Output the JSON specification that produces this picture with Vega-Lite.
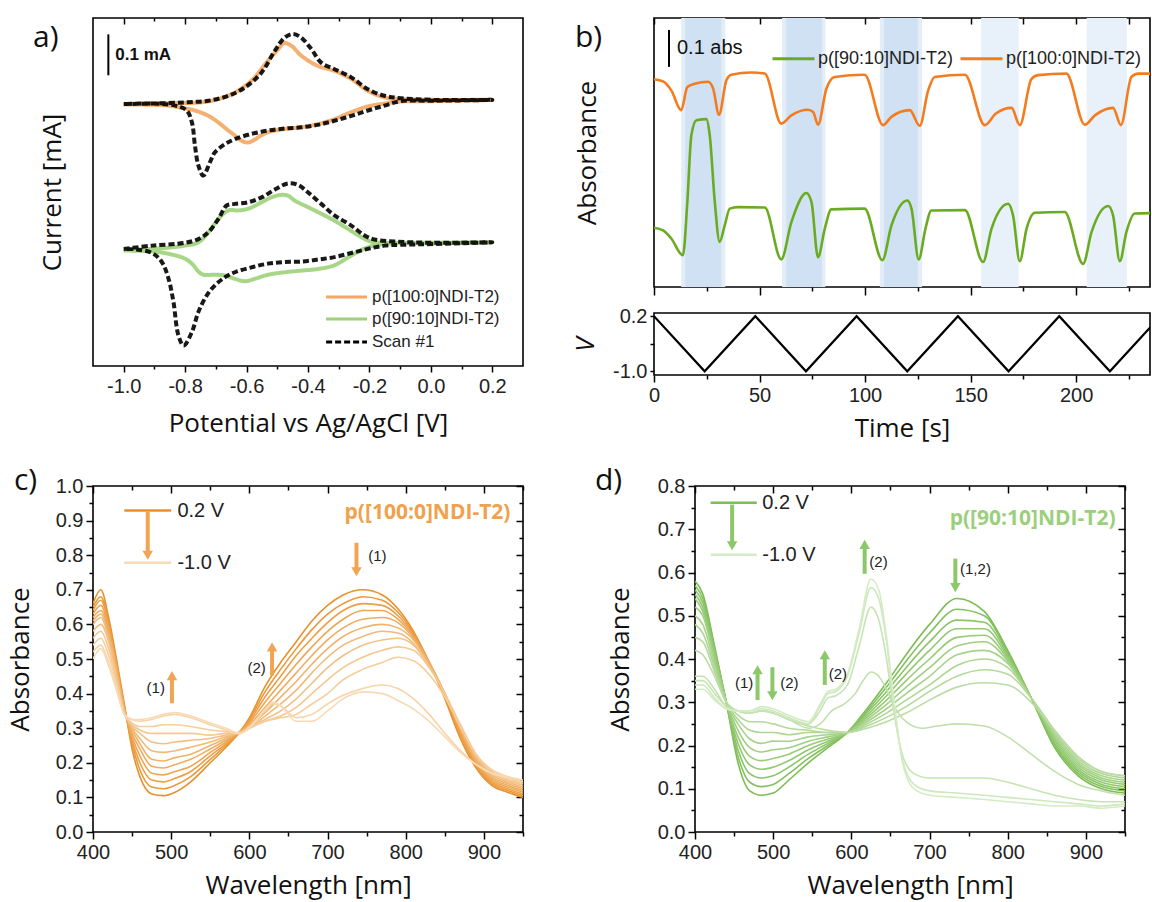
{
"$schema": "https://vega.github.io/schema/vega-lite/v6.json",
"autosize": {"type": "pad"},
"padding": {"left": 6, "top": 16, "right": 0, "bottom": 6},
"background": "white",
"datasets": {
"cv": [
{"s":"p([100:0]NDI-T2)","g":"A","o":1,"v":-1.0,"i":0.640},{"s":"p([100:0]NDI-T2)","g":"A","o":2,"v":-0.854,"i":0.642},{"s":"p([100:0]NDI-T2)","g":"A","o":3,"v":-0.746,"i":0.644},{"s":"p([100:0]NDI-T2)","g":"A","o":4,"v":-0.692,"i":0.652},{"s":"p([100:0]NDI-T2)","g":"A","o":5,"v":-0.638,"i":0.668},{"s":"p([100:0]NDI-T2)","g":"A","o":6,"v":-0.584,"i":0.697},{"s":"p([100:0]NDI-T2)","g":"A","o":7,"v":-0.530,"i":0.746},{"s":"p([100:0]NDI-T2)","g":"A","o":8,"v":-0.497,"i":0.774},{"s":"p([100:0]NDI-T2)","g":"A","o":9,"v":-0.478,"i":0.789},{"s":"p([100:0]NDI-T2)","g":"A","o":10,"v":-0.454,"i":0.782},{"s":"p([100:0]NDI-T2)","g":"A","o":11,"v":-0.422,"i":0.758},{"s":"p([100:0]NDI-T2)","g":"A","o":12,"v":-0.368,"i":0.733},{"s":"p([100:0]NDI-T2)","g":"A","o":13,"v":-0.314,"i":0.721},{"s":"p([100:0]NDI-T2)","g":"A","o":14,"v":-0.259,"i":0.701},{"s":"p([100:0]NDI-T2)","g":"A","o":15,"v":-0.205,"i":0.672},{"s":"p([100:0]NDI-T2)","g":"A","o":16,"v":-0.151,"i":0.656},{"s":"p([100:0]NDI-T2)","g":"A","o":17,"v":-0.097,"i":0.652},{"s":"p([100:0]NDI-T2)","g":"A","o":18,"v":0.011,"i":0.650},{"s":"p([100:0]NDI-T2)","g":"A","o":19,"v":0.2,"i":0.650},{"s":"p([100:0]NDI-T2)","g":"A","o":20,"v":0.011,"i":0.647},{"s":"p([100:0]NDI-T2)","g":"A","o":21,"v":-0.097,"i":0.646},{"s":"p([100:0]NDI-T2)","g":"A","o":22,"v":-0.151,"i":0.641},{"s":"p([100:0]NDI-T2)","g":"A","o":23,"v":-0.205,"i":0.634},{"s":"p([100:0]NDI-T2)","g":"A","o":24,"v":-0.259,"i":0.620},{"s":"p([100:0]NDI-T2)","g":"A","o":25,"v":-0.314,"i":0.603},{"s":"p([100:0]NDI-T2)","g":"A","o":26,"v":-0.368,"i":0.591},{"s":"p([100:0]NDI-T2)","g":"A","o":27,"v":-0.422,"i":0.583},{"s":"p([100:0]NDI-T2)","g":"A","o":28,"v":-0.476,"i":0.579},{"s":"p([100:0]NDI-T2)","g":"A","o":29,"v":-0.530,"i":0.571},{"s":"p([100:0]NDI-T2)","g":"A","o":30,"v":-0.551,"i":0.564},{"s":"p([100:0]NDI-T2)","g":"A","o":31,"v":-0.573,"i":0.553},{"s":"p([100:0]NDI-T2)","g":"A","o":32,"v":-0.595,"i":0.546},{"s":"p([100:0]NDI-T2)","g":"A","o":33,"v":-0.616,"i":0.550},{"s":"p([100:0]NDI-T2)","g":"A","o":34,"v":-0.638,"i":0.563},{"s":"p([100:0]NDI-T2)","g":"A","o":35,"v":-0.659,"i":0.575},{"s":"p([100:0]NDI-T2)","g":"A","o":36,"v":-0.692,"i":0.595},{"s":"p([100:0]NDI-T2)","g":"A","o":37,"v":-0.724,"i":0.611},{"s":"p([100:0]NDI-T2)","g":"A","o":38,"v":-0.768,"i":0.624},{"s":"p([100:0]NDI-T2)","g":"A","o":39,"v":-0.800,"i":0.629},{"s":"p([100:0]NDI-T2)","g":"A","o":40,"v":-0.854,"i":0.636},{"s":"p([100:0]NDI-T2)","g":"A","o":41,"v":-0.908,"i":0.638},{"s":"p([100:0]NDI-T2)","g":"A","o":42,"v":-1.0,"i":0.639},
{"s":"p([90:10]NDI-T2)","g":"B","o":1,"v":-1.0,"i":0.283},{"s":"p([90:10]NDI-T2)","g":"B","o":2,"v":-0.908,"i":0.286},{"s":"p([90:10]NDI-T2)","g":"B","o":3,"v":-0.800,"i":0.294},{"s":"p([90:10]NDI-T2)","g":"B","o":4,"v":-0.757,"i":0.302},{"s":"p([90:10]NDI-T2)","g":"B","o":5,"v":-0.724,"i":0.327},{"s":"p([90:10]NDI-T2)","g":"B","o":6,"v":-0.692,"i":0.359},{"s":"p([90:10]NDI-T2)","g":"B","o":7,"v":-0.659,"i":0.380},{"s":"p([90:10]NDI-T2)","g":"B","o":8,"v":-0.627,"i":0.380},{"s":"p([90:10]NDI-T2)","g":"B","o":9,"v":-0.595,"i":0.384},{"s":"p([90:10]NDI-T2)","g":"B","o":10,"v":-0.551,"i":0.400},{"s":"p([90:10]NDI-T2)","g":"B","o":11,"v":-0.519,"i":0.412},{"s":"p([90:10]NDI-T2)","g":"B","o":12,"v":-0.487,"i":0.418},{"s":"p([90:10]NDI-T2)","g":"B","o":13,"v":-0.465,"i":0.416},{"s":"p([90:10]NDI-T2)","g":"B","o":14,"v":-0.443,"i":0.404},{"s":"p([90:10]NDI-T2)","g":"B","o":15,"v":-0.400,"i":0.388},{"s":"p([90:10]NDI-T2)","g":"B","o":16,"v":-0.357,"i":0.372},{"s":"p([90:10]NDI-T2)","g":"B","o":17,"v":-0.314,"i":0.355},{"s":"p([90:10]NDI-T2)","g":"B","o":18,"v":-0.270,"i":0.335},{"s":"p([90:10]NDI-T2)","g":"B","o":19,"v":-0.227,"i":0.315},{"s":"p([90:10]NDI-T2)","g":"B","o":20,"v":-0.195,"i":0.304},{"s":"p([90:10]NDI-T2)","g":"B","o":21,"v":-0.151,"i":0.301},{"s":"p([90:10]NDI-T2)","g":"B","o":22,"v":0.011,"i":0.301},{"s":"p([90:10]NDI-T2)","g":"B","o":23,"v":0.2,"i":0.302},{"s":"p([90:10]NDI-T2)","g":"B","o":24,"v":0.011,"i":0.300},{"s":"p([90:10]NDI-T2)","g":"B","o":25,"v":-0.151,"i":0.298},{"s":"p([90:10]NDI-T2)","g":"B","o":26,"v":-0.205,"i":0.290},{"s":"p([90:10]NDI-T2)","g":"B","o":27,"v":-0.259,"i":0.270},{"s":"p([90:10]NDI-T2)","g":"B","o":28,"v":-0.314,"i":0.246},{"s":"p([90:10]NDI-T2)","g":"B","o":29,"v":-0.368,"i":0.237},{"s":"p([90:10]NDI-T2)","g":"B","o":30,"v":-0.422,"i":0.233},{"s":"p([90:10]NDI-T2)","g":"B","o":31,"v":-0.476,"i":0.229},{"s":"p([90:10]NDI-T2)","g":"B","o":32,"v":-0.530,"i":0.223},{"s":"p([90:10]NDI-T2)","g":"B","o":33,"v":-0.573,"i":0.213},{"s":"p([90:10]NDI-T2)","g":"B","o":34,"v":-0.606,"i":0.207},{"s":"p([90:10]NDI-T2)","g":"B","o":35,"v":-0.638,"i":0.213},{"s":"p([90:10]NDI-T2)","g":"B","o":36,"v":-0.670,"i":0.221},{"s":"p([90:10]NDI-T2)","g":"B","o":37,"v":-0.703,"i":0.223},{"s":"p([90:10]NDI-T2)","g":"B","o":38,"v":-0.741,"i":0.223},{"s":"p([90:10]NDI-T2)","g":"B","o":39,"v":-0.757,"i":0.231},{"s":"p([90:10]NDI-T2)","g":"B","o":40,"v":-0.773,"i":0.246},{"s":"p([90:10]NDI-T2)","g":"B","o":41,"v":-0.800,"i":0.262},{"s":"p([90:10]NDI-T2)","g":"B","o":42,"v":-0.854,"i":0.274},{"s":"p([90:10]NDI-T2)","g":"B","o":43,"v":-0.908,"i":0.280},{"s":"p([90:10]NDI-T2)","g":"B","o":44,"v":-1.0,"i":0.282},
{"s":"Scan #1","g":"C","o":1,"v":-1.0,"i":0.640},{"s":"Scan #1","g":"C","o":2,"v":-0.908,"i":0.641},{"s":"Scan #1","g":"C","o":3,"v":-0.800,"i":0.644},{"s":"Scan #1","g":"C","o":4,"v":-0.724,"i":0.648},{"s":"Scan #1","g":"C","o":5,"v":-0.659,"i":0.660},{"s":"Scan #1","g":"C","o":6,"v":-0.606,"i":0.680},{"s":"Scan #1","g":"C","o":7,"v":-0.551,"i":0.717},{"s":"Scan #1","g":"C","o":8,"v":-0.508,"i":0.770},{"s":"Scan #1","g":"C","o":9,"v":-0.476,"i":0.802},{"s":"Scan #1","g":"C","o":10,"v":-0.449,"i":0.811},{"s":"Scan #1","g":"C","o":11,"v":-0.422,"i":0.802},{"s":"Scan #1","g":"C","o":12,"v":-0.389,"i":0.774},{"s":"Scan #1","g":"C","o":13,"v":-0.357,"i":0.741},{"s":"Scan #1","g":"C","o":14,"v":-0.314,"i":0.725},{"s":"Scan #1","g":"C","o":15,"v":-0.259,"i":0.705},{"s":"Scan #1","g":"C","o":16,"v":-0.205,"i":0.676},{"s":"Scan #1","g":"C","o":17,"v":-0.151,"i":0.660},{"s":"Scan #1","g":"C","o":18,"v":-0.097,"i":0.654},{"s":"Scan #1","g":"C","o":19,"v":0.011,"i":0.650},{"s":"Scan #1","g":"C","o":20,"v":0.2,"i":0.650},{"s":"Scan #1","g":"C","o":21,"v":0.011,"i":0.648},{"s":"Scan #1","g":"C","o":22,"v":-0.097,"i":0.647},{"s":"Scan #1","g":"C","o":23,"v":-0.151,"i":0.636},{"s":"Scan #1","g":"C","o":24,"v":-0.205,"i":0.624},{"s":"Scan #1","g":"C","o":25,"v":-0.259,"i":0.611},{"s":"Scan #1","g":"C","o":26,"v":-0.314,"i":0.599},{"s":"Scan #1","g":"C","o":27,"v":-0.368,"i":0.589},{"s":"Scan #1","g":"C","o":28,"v":-0.422,"i":0.583},{"s":"Scan #1","g":"C","o":29,"v":-0.476,"i":0.580},{"s":"Scan #1","g":"C","o":30,"v":-0.530,"i":0.575},{"s":"Scan #1","g":"C","o":31,"v":-0.584,"i":0.567},{"s":"Scan #1","g":"C","o":32,"v":-0.638,"i":0.554},{"s":"Scan #1","g":"C","o":33,"v":-0.670,"i":0.542},{"s":"Scan #1","g":"C","o":34,"v":-0.703,"i":0.522},{"s":"Scan #1","g":"C","o":35,"v":-0.719,"i":0.498},{"s":"Scan #1","g":"C","o":36,"v":-0.741,"i":0.465},{"s":"Scan #1","g":"C","o":37,"v":-0.757,"i":0.490},{"s":"Scan #1","g":"C","o":38,"v":-0.768,"i":0.538},{"s":"Scan #1","g":"C","o":39,"v":-0.778,"i":0.595},{"s":"Scan #1","g":"C","o":40,"v":-0.795,"i":0.624},{"s":"Scan #1","g":"C","o":41,"v":-0.832,"i":0.636},{"s":"Scan #1","g":"C","o":42,"v":-0.908,"i":0.641},{"s":"Scan #1","g":"C","o":43,"v":-1.0,"i":0.640},
{"s":"Scan #1","g":"D","o":1,"v":-1.0,"i":0.286},{"s":"Scan #1","g":"D","o":2,"v":-0.908,"i":0.294},{"s":"Scan #1","g":"D","o":3,"v":-0.800,"i":0.301},{"s":"Scan #1","g":"D","o":4,"v":-0.757,"i":0.310},{"s":"Scan #1","g":"D","o":5,"v":-0.724,"i":0.327},{"s":"Scan #1","g":"D","o":6,"v":-0.692,"i":0.359},{"s":"Scan #1","g":"D","o":7,"v":-0.665,"i":0.392},{"s":"Scan #1","g":"D","o":8,"v":-0.638,"i":0.396},{"s":"Scan #1","g":"D","o":9,"v":-0.595,"i":0.400},{"s":"Scan #1","g":"D","o":10,"v":-0.551,"i":0.412},{"s":"Scan #1","g":"D","o":11,"v":-0.508,"i":0.431},{"s":"Scan #1","g":"D","o":12,"v":-0.465,"i":0.446},{"s":"Scan #1","g":"D","o":13,"v":-0.432,"i":0.442},{"s":"Scan #1","g":"D","o":14,"v":-0.400,"i":0.424},{"s":"Scan #1","g":"D","o":15,"v":-0.357,"i":0.396},{"s":"Scan #1","g":"D","o":16,"v":-0.314,"i":0.368},{"s":"Scan #1","g":"D","o":17,"v":-0.259,"i":0.343},{"s":"Scan #1","g":"D","o":18,"v":-0.216,"i":0.319},{"s":"Scan #1","g":"D","o":19,"v":-0.184,"i":0.309},{"s":"Scan #1","g":"D","o":20,"v":-0.119,"i":0.304},{"s":"Scan #1","g":"D","o":21,"v":0.011,"i":0.301},{"s":"Scan #1","g":"D","o":22,"v":0.2,"i":0.302},{"s":"Scan #1","g":"D","o":23,"v":0.011,"i":0.298},{"s":"Scan #1","g":"D","o":24,"v":-0.097,"i":0.296},{"s":"Scan #1","g":"D","o":25,"v":-0.151,"i":0.294},{"s":"Scan #1","g":"D","o":26,"v":-0.205,"i":0.286},{"s":"Scan #1","g":"D","o":27,"v":-0.259,"i":0.276},{"s":"Scan #1","g":"D","o":28,"v":-0.314,"i":0.266},{"s":"Scan #1","g":"D","o":29,"v":-0.368,"i":0.260},{"s":"Scan #1","g":"D","o":30,"v":-0.422,"i":0.255},{"s":"Scan #1","g":"D","o":31,"v":-0.476,"i":0.254},{"s":"Scan #1","g":"D","o":32,"v":-0.530,"i":0.250},{"s":"Scan #1","g":"D","o":33,"v":-0.584,"i":0.241},{"s":"Scan #1","g":"D","o":34,"v":-0.638,"i":0.229},{"s":"Scan #1","g":"D","o":35,"v":-0.670,"i":0.217},{"s":"Scan #1","g":"D","o":36,"v":-0.703,"i":0.197},{"s":"Scan #1","g":"D","o":37,"v":-0.730,"i":0.172},{"s":"Scan #1","g":"D","o":38,"v":-0.757,"i":0.132},{"s":"Scan #1","g":"D","o":39,"v":-0.778,"i":0.083},{"s":"Scan #1","g":"D","o":40,"v":-0.805,"i":0.050},{"s":"Scan #1","g":"D","o":41,"v":-0.822,"i":0.075},{"s":"Scan #1","g":"D","o":42,"v":-0.838,"i":0.156},{"s":"Scan #1","g":"D","o":43,"v":-0.854,"i":0.213},{"s":"Scan #1","g":"D","o":44,"v":-0.876,"i":0.254},{"s":"Scan #1","g":"D","o":45,"v":-0.908,"i":0.276},{"s":"Scan #1","g":"D","o":46,"v":-0.962,"i":0.285},{"s":"Scan #1","g":"D","o":47,"v":-1.0,"i":0.286}
],
"aleg": [
{"s":"p([100:0]NDI-T2)","x1":-0.341,"x2":-0.208,"y":0.1685},
{"s":"p([90:10]NDI-T2)","x1":-0.341,"x2":-0.208,"y":0.1148},
{"s":"Scan #1","x1":-0.341,"x2":-0.208,"y":0.0586}
],
"abar": [{"v":-1.05,"i1":0.710,"i2":0.810,"label":"0.1 mA"}],
"bbar": [{"t":7.1,"y1":0.590,"y2":0.689,"label":"0.1 abs"}],
"bands": [
{"t1":12.9,"t2":33.8,"kind":"outer"},{"t1":14.8,"t2":31.9,"kind":"inner"},
{"t1":60.7,"t2":81.2,"kind":"outer"},{"t1":62.7,"t2":79.6,"kind":"inner"},
{"t1":107,"t2":127,"kind":"outer"},{"t1":109,"t2":125,"kind":"inner"},
{"t1":155,"t2":172.8,"kind":"light"},{"t1":205,"t2":224,"kind":"light"}
],
"abs": [
{"s":"p([100:0]NDI-T2)","t":0,"y":0.557},{"s":"p([100:0]NDI-T2)","t":4.3,"y":0.551},{"s":"p([100:0]NDI-T2)","t":8.2,"y":0.527},{"s":"p([100:0]NDI-T2)","t":12.9,"y":0.474},{"s":"p([100:0]NDI-T2)","t":15.8,"y":0.536},{"s":"p([100:0]NDI-T2)","t":19.3,"y":0.545},{"s":"p([100:0]NDI-T2)","t":25.6,"y":0.550},{"s":"p([100:0]NDI-T2)","t":28,"y":0.532},{"s":"p([100:0]NDI-T2)","t":30.8,"y":0.462},{"s":"p([100:0]NDI-T2)","t":34.3,"y":0.554},{"s":"p([100:0]NDI-T2)","t":36.6,"y":0.569},{"s":"p([100:0]NDI-T2)","t":46.1,"y":0.575},{"s":"p([100:0]NDI-T2)","t":52.5,"y":0.572},{"s":"p([100:0]NDI-T2)","t":60.3,"y":0.438},{"s":"p([100:0]NDI-T2)","t":65.1,"y":0.460},{"s":"p([100:0]NDI-T2)","t":73,"y":0.475},{"s":"p([100:0]NDI-T2)","t":75.4,"y":0.469},{"s":"p([100:0]NDI-T2)","t":77.7,"y":0.435},{"s":"p([100:0]NDI-T2)","t":81.7,"y":0.532},{"s":"p([100:0]NDI-T2)","t":85.6,"y":0.563},{"s":"p([100:0]NDI-T2)","t":99.8,"y":0.569},{"s":"p([100:0]NDI-T2)","t":108.5,"y":0.434},{"s":"p([100:0]NDI-T2)","t":112.5,"y":0.456},{"s":"p([100:0]NDI-T2)","t":121.2,"y":0.474},{"s":"p([100:0]NDI-T2)","t":125.9,"y":0.432},{"s":"p([100:0]NDI-T2)","t":129.9,"y":0.527},{"s":"p([100:0]NDI-T2)","t":133,"y":0.563},{"s":"p([100:0]NDI-T2)","t":147.3,"y":0.569},{"s":"p([100:0]NDI-T2)","t":156.7,"y":0.434},{"s":"p([100:0]NDI-T2)","t":162,"y":0.465},{"s":"p([100:0]NDI-T2)","t":169.4,"y":0.480},{"s":"p([100:0]NDI-T2)","t":173.3,"y":0.434},{"s":"p([100:0]NDI-T2)","t":178.8,"y":0.557},{"s":"p([100:0]NDI-T2)","t":182,"y":0.568},{"s":"p([100:0]NDI-T2)","t":195.4,"y":0.572},{"s":"p([100:0]NDI-T2)","t":204.1,"y":0.435},{"s":"p([100:0]NDI-T2)","t":208.9,"y":0.460},{"s":"p([100:0]NDI-T2)","t":217.5,"y":0.480},{"s":"p([100:0]NDI-T2)","t":221.2,"y":0.434},{"s":"p([100:0]NDI-T2)","t":226.2,"y":0.563},{"s":"p([100:0]NDI-T2)","t":229.4,"y":0.572},{"s":"p([100:0]NDI-T2)","t":235,"y":0.572},
{"s":"p([90:10]NDI-T2)","t":0,"y":0.159},{"s":"p([90:10]NDI-T2)","t":4.3,"y":0.152},{"s":"p([90:10]NDI-T2)","t":8.2,"y":0.130},{"s":"p([90:10]NDI-T2)","t":13.7,"y":0.085},{"s":"p([90:10]NDI-T2)","t":15.8,"y":0.228},{"s":"p([90:10]NDI-T2)","t":17.7,"y":0.407},{"s":"p([90:10]NDI-T2)","t":20.1,"y":0.447},{"s":"p([90:10]NDI-T2)","t":24.8,"y":0.450},{"s":"p([90:10]NDI-T2)","t":26.4,"y":0.407},{"s":"p([90:10]NDI-T2)","t":28.8,"y":0.228},{"s":"p([90:10]NDI-T2)","t":31.1,"y":0.121},{"s":"p([90:10]NDI-T2)","t":33.5,"y":0.165},{"s":"p([90:10]NDI-T2)","t":35.9,"y":0.210},{"s":"p([90:10]NDI-T2)","t":39.8,"y":0.214},{"s":"p([90:10]NDI-T2)","t":52.5,"y":0.213},{"s":"p([90:10]NDI-T2)","t":60.3,"y":0.074},{"s":"p([90:10]NDI-T2)","t":65.1,"y":0.174},{"s":"p([90:10]NDI-T2)","t":72.2,"y":0.252},{"s":"p([90:10]NDI-T2)","t":74.6,"y":0.228},{"s":"p([90:10]NDI-T2)","t":77.7,"y":0.080},{"s":"p([90:10]NDI-T2)","t":80.9,"y":0.156},{"s":"p([90:10]NDI-T2)","t":84,"y":0.208},{"s":"p([90:10]NDI-T2)","t":99.8,"y":0.210},{"s":"p([90:10]NDI-T2)","t":108.2,"y":0.072},{"s":"p([90:10]NDI-T2)","t":112.5,"y":0.165},{"s":"p([90:10]NDI-T2)","t":120,"y":0.232},{"s":"p([90:10]NDI-T2)","t":122,"y":0.210},{"s":"p([90:10]NDI-T2)","t":125.4,"y":0.074},{"s":"p([90:10]NDI-T2)","t":128.6,"y":0.156},{"s":"p([90:10]NDI-T2)","t":131.4,"y":0.205},{"s":"p([90:10]NDI-T2)","t":147.3,"y":0.206},{"s":"p([90:10]NDI-T2)","t":155.9,"y":0.067},{"s":"p([90:10]NDI-T2)","t":159.9,"y":0.156},{"s":"p([90:10]NDI-T2)","t":167.8,"y":0.223},{"s":"p([90:10]NDI-T2)","t":170.1,"y":0.192},{"s":"p([90:10]NDI-T2)","t":173.3,"y":0.069},{"s":"p([90:10]NDI-T2)","t":176.5,"y":0.156},{"s":"p([90:10]NDI-T2)","t":180.4,"y":0.199},{"s":"p([90:10]NDI-T2)","t":194.6,"y":0.201},{"s":"p([90:10]NDI-T2)","t":203.3,"y":0.062},{"s":"p([90:10]NDI-T2)","t":207.3,"y":0.147},{"s":"p([90:10]NDI-T2)","t":215.2,"y":0.217},{"s":"p([90:10]NDI-T2)","t":217.5,"y":0.192},{"s":"p([90:10]NDI-T2)","t":220.7,"y":0.069},{"s":"p([90:10]NDI-T2)","t":223.8,"y":0.147},{"s":"p([90:10]NDI-T2)","t":227.8,"y":0.197},{"s":"p([90:10]NDI-T2)","t":235,"y":0.198}
],
"volt": [{"t":0,"v":0.2},{"t":24,"v":-1.0},{"t":48,"v":0.2},{"t":72,"v":-1.0},{"t":96,"v":0.2},{"t":120,"v":-1.0},{"t":144,"v":0.2},{"t":168,"v":-1.0},{"t":192,"v":0.2},{"t":216,"v":-1.0},{"t":240,"v":0.2}],
"cspec": [
{"k":0,"w":400,"a":0.66},{"k":0,"w":410,"a":0.70},{"k":0,"w":420,"a":0.62},{"k":0,"w":430,"a":0.50},{"k":0,"w":440,"a":0.37},{"k":0,"w":450,"a":0.24},{"k":0,"w":460,"a":0.16},{"k":0,"w":475,"a":0.11},{"k":0,"w":490,"a":0.105},{"k":0,"w":505,"a":0.115},{"k":0,"w":525,"a":0.145},{"k":0,"w":550,"a":0.20},{"k":0,"w":570,"a":0.245},{"k":0,"w":588,"a":0.29},{"k":0,"w":600,"a":0.33},{"k":0,"w":620,"a":0.42},{"k":0,"w":640,"a":0.49},{"k":0,"w":660,"a":0.55},{"k":0,"w":680,"a":0.61},{"k":0,"w":700,"a":0.655},{"k":0,"w":720,"a":0.685},{"k":0,"w":745,"a":0.70},{"k":0,"w":770,"a":0.685},{"k":0,"w":790,"a":0.645},{"k":0,"w":810,"a":0.58},{"k":0,"w":830,"a":0.49},{"k":0,"w":850,"a":0.385},{"k":0,"w":870,"a":0.27},{"k":0,"w":890,"a":0.185},{"k":0,"w":910,"a":0.135},{"k":0,"w":930,"a":0.115},{"k":0,"w":950,"a":0.10},
{"k":1,"w":400,"a":0.65},{"k":1,"w":410,"a":0.68},{"k":1,"w":420,"a":0.61},{"k":1,"w":430,"a":0.49},{"k":1,"w":440,"a":0.365},{"k":1,"w":450,"a":0.255},{"k":1,"w":460,"a":0.18},{"k":1,"w":475,"a":0.13},{"k":1,"w":490,"a":0.125},{"k":1,"w":505,"a":0.135},{"k":1,"w":525,"a":0.16},{"k":1,"w":550,"a":0.21},{"k":1,"w":570,"a":0.25},{"k":1,"w":588,"a":0.29},{"k":1,"w":600,"a":0.325},{"k":1,"w":620,"a":0.405},{"k":1,"w":640,"a":0.47},{"k":1,"w":660,"a":0.53},{"k":1,"w":680,"a":0.585},{"k":1,"w":700,"a":0.63},{"k":1,"w":720,"a":0.66},{"k":1,"w":745,"a":0.68},{"k":1,"w":770,"a":0.67},{"k":1,"w":790,"a":0.635},{"k":1,"w":810,"a":0.575},{"k":1,"w":830,"a":0.49},{"k":1,"w":850,"a":0.39},{"k":1,"w":870,"a":0.28},{"k":1,"w":890,"a":0.19},{"k":1,"w":910,"a":0.14},{"k":1,"w":930,"a":0.12},{"k":1,"w":950,"a":0.105},
{"k":2,"w":400,"a":0.64},{"k":2,"w":410,"a":0.67},{"k":2,"w":420,"a":0.60},{"k":2,"w":430,"a":0.485},{"k":2,"w":440,"a":0.36},{"k":2,"w":450,"a":0.265},{"k":2,"w":460,"a":0.20},{"k":2,"w":475,"a":0.15},{"k":2,"w":490,"a":0.145},{"k":2,"w":505,"a":0.155},{"k":2,"w":525,"a":0.175},{"k":2,"w":550,"a":0.22},{"k":2,"w":570,"a":0.255},{"k":2,"w":588,"a":0.29},{"k":2,"w":600,"a":0.32},{"k":2,"w":620,"a":0.39},{"k":2,"w":640,"a":0.45},{"k":2,"w":660,"a":0.51},{"k":2,"w":680,"a":0.56},{"k":2,"w":700,"a":0.605},{"k":2,"w":720,"a":0.64},{"k":2,"w":745,"a":0.66},{"k":2,"w":770,"a":0.655},{"k":2,"w":790,"a":0.625},{"k":2,"w":810,"a":0.57},{"k":2,"w":830,"a":0.49},{"k":2,"w":850,"a":0.395},{"k":2,"w":870,"a":0.285},{"k":2,"w":890,"a":0.195},{"k":2,"w":910,"a":0.145},{"k":2,"w":930,"a":0.125},{"k":2,"w":950,"a":0.11},
{"k":3,"w":400,"a":0.63},{"k":3,"w":410,"a":0.655},{"k":3,"w":420,"a":0.59},{"k":3,"w":430,"a":0.48},{"k":3,"w":440,"a":0.355},{"k":3,"w":450,"a":0.275},{"k":3,"w":460,"a":0.22},{"k":3,"w":475,"a":0.17},{"k":3,"w":490,"a":0.165},{"k":3,"w":505,"a":0.175},{"k":3,"w":525,"a":0.19},{"k":3,"w":550,"a":0.23},{"k":3,"w":570,"a":0.26},{"k":3,"w":588,"a":0.29},{"k":3,"w":600,"a":0.315},{"k":3,"w":620,"a":0.375},{"k":3,"w":640,"a":0.43},{"k":3,"w":660,"a":0.485},{"k":3,"w":680,"a":0.535},{"k":3,"w":700,"a":0.58},{"k":3,"w":720,"a":0.615},{"k":3,"w":745,"a":0.64},{"k":3,"w":770,"a":0.64},{"k":3,"w":790,"a":0.615},{"k":3,"w":810,"a":0.565},{"k":3,"w":830,"a":0.49},{"k":3,"w":850,"a":0.40},{"k":3,"w":870,"a":0.29},{"k":3,"w":890,"a":0.20},{"k":3,"w":910,"a":0.15},{"k":3,"w":930,"a":0.13},{"k":3,"w":950,"a":0.115},
{"k":4,"w":400,"a":0.62},{"k":4,"w":410,"a":0.64},{"k":4,"w":420,"a":0.58},{"k":4,"w":430,"a":0.475},{"k":4,"w":440,"a":0.355},{"k":4,"w":450,"a":0.285},{"k":4,"w":460,"a":0.24},{"k":4,"w":475,"a":0.19},{"k":4,"w":490,"a":0.185},{"k":4,"w":505,"a":0.195},{"k":4,"w":525,"a":0.21},{"k":4,"w":550,"a":0.24},{"k":4,"w":570,"a":0.265},{"k":4,"w":588,"a":0.29},{"k":4,"w":600,"a":0.31},{"k":4,"w":620,"a":0.36},{"k":4,"w":640,"a":0.41},{"k":4,"w":660,"a":0.46},{"k":4,"w":680,"a":0.51},{"k":4,"w":700,"a":0.555},{"k":4,"w":720,"a":0.59},{"k":4,"w":745,"a":0.615},{"k":4,"w":770,"a":0.62},{"k":4,"w":790,"a":0.605},{"k":4,"w":810,"a":0.56},{"k":4,"w":830,"a":0.49},{"k":4,"w":850,"a":0.40},{"k":4,"w":870,"a":0.295},{"k":4,"w":890,"a":0.205},{"k":4,"w":910,"a":0.155},{"k":4,"w":930,"a":0.135},{"k":4,"w":950,"a":0.12},
{"k":5,"w":400,"a":0.61},{"k":5,"w":410,"a":0.63},{"k":5,"w":420,"a":0.57},{"k":5,"w":430,"a":0.47},{"k":5,"w":440,"a":0.35},{"k":5,"w":450,"a":0.295},{"k":5,"w":460,"a":0.255},{"k":5,"w":475,"a":0.21},{"k":5,"w":490,"a":0.205},{"k":5,"w":505,"a":0.215},{"k":5,"w":525,"a":0.225},{"k":5,"w":550,"a":0.25},{"k":5,"w":570,"a":0.27},{"k":5,"w":588,"a":0.29},{"k":5,"w":600,"a":0.305},{"k":5,"w":620,"a":0.345},{"k":5,"w":640,"a":0.39},{"k":5,"w":660,"a":0.435},{"k":5,"w":680,"a":0.485},{"k":5,"w":700,"a":0.53},{"k":5,"w":720,"a":0.565},{"k":5,"w":745,"a":0.59},{"k":5,"w":770,"a":0.60},{"k":5,"w":790,"a":0.59},{"k":5,"w":810,"a":0.555},{"k":5,"w":830,"a":0.485},{"k":5,"w":850,"a":0.40},{"k":5,"w":870,"a":0.30},{"k":5,"w":890,"a":0.21},{"k":5,"w":910,"a":0.16},{"k":5,"w":930,"a":0.14},{"k":5,"w":950,"a":0.125},
{"k":6,"w":400,"a":0.60},{"k":6,"w":410,"a":0.62},{"k":6,"w":420,"a":0.56},{"k":6,"w":430,"a":0.46},{"k":6,"w":440,"a":0.35},{"k":6,"w":450,"a":0.30},{"k":6,"w":460,"a":0.27},{"k":6,"w":475,"a":0.235},{"k":6,"w":490,"a":0.23},{"k":6,"w":505,"a":0.235},{"k":6,"w":525,"a":0.245},{"k":6,"w":550,"a":0.26},{"k":6,"w":570,"a":0.275},{"k":6,"w":588,"a":0.29},{"k":6,"w":600,"a":0.30},{"k":6,"w":620,"a":0.335},{"k":6,"w":640,"a":0.37},{"k":6,"w":660,"a":0.41},{"k":6,"w":680,"a":0.46},{"k":6,"w":700,"a":0.505},{"k":6,"w":720,"a":0.54},{"k":6,"w":745,"a":0.565},{"k":6,"w":770,"a":0.58},{"k":6,"w":790,"a":0.575},{"k":6,"w":810,"a":0.545},{"k":6,"w":830,"a":0.48},{"k":6,"w":850,"a":0.40},{"k":6,"w":870,"a":0.30},{"k":6,"w":890,"a":0.215},{"k":6,"w":910,"a":0.165},{"k":6,"w":930,"a":0.145},{"k":6,"w":950,"a":0.13},
{"k":7,"w":400,"a":0.58},{"k":7,"w":410,"a":0.60},{"k":7,"w":420,"a":0.55},{"k":7,"w":430,"a":0.45},{"k":7,"w":440,"a":0.345},{"k":7,"w":450,"a":0.305},{"k":7,"w":460,"a":0.285},{"k":7,"w":475,"a":0.26},{"k":7,"w":490,"a":0.255},{"k":7,"w":505,"a":0.26},{"k":7,"w":525,"a":0.265},{"k":7,"w":550,"a":0.27},{"k":7,"w":570,"a":0.28},{"k":7,"w":588,"a":0.285},{"k":7,"w":600,"a":0.30},{"k":7,"w":620,"a":0.325},{"k":7,"w":640,"a":0.35},{"k":7,"w":660,"a":0.385},{"k":7,"w":680,"a":0.43},{"k":7,"w":700,"a":0.475},{"k":7,"w":720,"a":0.51},{"k":7,"w":745,"a":0.54},{"k":7,"w":770,"a":0.555},{"k":7,"w":790,"a":0.56},{"k":7,"w":810,"a":0.54},{"k":7,"w":830,"a":0.48},{"k":7,"w":850,"a":0.40},{"k":7,"w":870,"a":0.305},{"k":7,"w":890,"a":0.22},{"k":7,"w":910,"a":0.17},{"k":7,"w":930,"a":0.15},{"k":7,"w":950,"a":0.135},
{"k":8,"w":400,"a":0.56},{"k":8,"w":410,"a":0.58},{"k":8,"w":420,"a":0.53},{"k":8,"w":430,"a":0.44},{"k":8,"w":440,"a":0.345},{"k":8,"w":450,"a":0.31},{"k":8,"w":460,"a":0.295},{"k":8,"w":475,"a":0.285},{"k":8,"w":490,"a":0.285},{"k":8,"w":505,"a":0.285},{"k":8,"w":525,"a":0.285},{"k":8,"w":550,"a":0.28},{"k":8,"w":570,"a":0.285},{"k":8,"w":588,"a":0.285},{"k":8,"w":600,"a":0.30},{"k":8,"w":620,"a":0.32},{"k":8,"w":640,"a":0.335},{"k":8,"w":660,"a":0.36},{"k":8,"w":680,"a":0.40},{"k":8,"w":700,"a":0.44},{"k":8,"w":720,"a":0.475},{"k":8,"w":745,"a":0.505},{"k":8,"w":770,"a":0.525},{"k":8,"w":790,"a":0.535},{"k":8,"w":810,"a":0.525},{"k":8,"w":830,"a":0.475},{"k":8,"w":850,"a":0.40},{"k":8,"w":870,"a":0.31},{"k":8,"w":890,"a":0.225},{"k":8,"w":910,"a":0.175},{"k":8,"w":930,"a":0.155},{"k":8,"w":950,"a":0.14},
{"k":9,"w":400,"a":0.54},{"k":9,"w":410,"a":0.56},{"k":9,"w":420,"a":0.51},{"k":9,"w":430,"a":0.43},{"k":9,"w":440,"a":0.34},{"k":9,"w":450,"a":0.315},{"k":9,"w":460,"a":0.305},{"k":9,"w":475,"a":0.305},{"k":9,"w":490,"a":0.31},{"k":9,"w":505,"a":0.31},{"k":9,"w":525,"a":0.305},{"k":9,"w":550,"a":0.295},{"k":9,"w":570,"a":0.29},{"k":9,"w":588,"a":0.285},{"k":9,"w":600,"a":0.30},{"k":9,"w":620,"a":0.32},{"k":9,"w":640,"a":0.33},{"k":9,"w":660,"a":0.34},{"k":9,"w":680,"a":0.37},{"k":9,"w":700,"a":0.40},{"k":9,"w":720,"a":0.44},{"k":9,"w":745,"a":0.47},{"k":9,"w":770,"a":0.49},{"k":9,"w":790,"a":0.505},{"k":9,"w":810,"a":0.495},{"k":9,"w":830,"a":0.455},{"k":9,"w":850,"a":0.39},{"k":9,"w":870,"a":0.305},{"k":9,"w":890,"a":0.225},{"k":9,"w":910,"a":0.18},{"k":9,"w":930,"a":0.16},{"k":9,"w":950,"a":0.145},
{"k":10,"w":400,"a":0.52},{"k":10,"w":410,"a":0.54},{"k":10,"w":420,"a":0.49},{"k":10,"w":430,"a":0.42},{"k":10,"w":440,"a":0.34},{"k":10,"w":450,"a":0.325},{"k":10,"w":460,"a":0.32},{"k":10,"w":475,"a":0.325},{"k":10,"w":490,"a":0.335},{"k":10,"w":505,"a":0.34},{"k":10,"w":525,"a":0.33},{"k":10,"w":550,"a":0.31},{"k":10,"w":570,"a":0.295},{"k":10,"w":588,"a":0.285},{"k":10,"w":600,"a":0.305},{"k":10,"w":620,"a":0.35},{"k":10,"w":630,"a":0.37},{"k":10,"w":640,"a":0.365},{"k":10,"w":660,"a":0.33},{"k":10,"w":680,"a":0.34},{"k":10,"w":700,"a":0.37},{"k":10,"w":720,"a":0.395},{"k":10,"w":745,"a":0.415},{"k":10,"w":770,"a":0.425},{"k":10,"w":790,"a":0.415},{"k":10,"w":810,"a":0.385},{"k":10,"w":830,"a":0.34},{"k":10,"w":850,"a":0.285},{"k":10,"w":870,"a":0.235},{"k":10,"w":890,"a":0.195},{"k":10,"w":910,"a":0.17},{"k":10,"w":930,"a":0.155},{"k":10,"w":950,"a":0.145},
{"k":11,"w":400,"a":0.50},{"k":11,"w":410,"a":0.53},{"k":11,"w":420,"a":0.48},{"k":11,"w":430,"a":0.41},{"k":11,"w":440,"a":0.34},{"k":11,"w":450,"a":0.325},{"k":11,"w":460,"a":0.325},{"k":11,"w":475,"a":0.33},{"k":11,"w":490,"a":0.34},{"k":11,"w":505,"a":0.345},{"k":11,"w":525,"a":0.335},{"k":11,"w":550,"a":0.315},{"k":11,"w":570,"a":0.30},{"k":11,"w":588,"a":0.285},{"k":11,"w":600,"a":0.30},{"k":11,"w":620,"a":0.355},{"k":11,"w":630,"a":0.375},{"k":11,"w":640,"a":0.365},{"k":11,"w":660,"a":0.32},{"k":11,"w":680,"a":0.32},{"k":11,"w":700,"a":0.35},{"k":11,"w":720,"a":0.385},{"k":11,"w":745,"a":0.405},{"k":11,"w":770,"a":0.40},{"k":11,"w":790,"a":0.38},{"k":11,"w":810,"a":0.355},{"k":11,"w":830,"a":0.32},{"k":11,"w":850,"a":0.275},{"k":11,"w":870,"a":0.23},{"k":11,"w":890,"a":0.195},{"k":11,"w":910,"a":0.17},{"k":11,"w":930,"a":0.16},{"k":11,"w":950,"a":0.15}
],
"dspec": [
{"k":0,"w":400,"a":0.58},{"k":0,"w":410,"a":0.55},{"k":0,"w":425,"a":0.43},{"k":0,"w":440,"a":0.30},{"k":0,"w":455,"a":0.16},{"k":0,"w":470,"a":0.095},{"k":0,"w":485,"a":0.085},{"k":0,"w":500,"a":0.09},{"k":0,"w":520,"a":0.12},{"k":0,"w":545,"a":0.16},{"k":0,"w":570,"a":0.195},{"k":0,"w":595,"a":0.23},{"k":0,"w":620,"a":0.285},{"k":0,"w":645,"a":0.345},{"k":0,"w":670,"a":0.41},{"k":0,"w":700,"a":0.48},{"k":0,"w":735,"a":0.54},{"k":0,"w":770,"a":0.51},{"k":0,"w":800,"a":0.42},{"k":0,"w":830,"a":0.31},{"k":0,"w":860,"a":0.195},{"k":0,"w":890,"a":0.13},{"k":0,"w":920,"a":0.10},{"k":0,"w":950,"a":0.09},
{"k":1,"w":400,"a":0.57},{"k":1,"w":410,"a":0.54},{"k":1,"w":425,"a":0.425},{"k":1,"w":440,"a":0.30},{"k":1,"w":455,"a":0.175},{"k":1,"w":470,"a":0.115},{"k":1,"w":485,"a":0.105},{"k":1,"w":500,"a":0.11},{"k":1,"w":520,"a":0.135},{"k":1,"w":545,"a":0.17},{"k":1,"w":570,"a":0.20},{"k":1,"w":595,"a":0.23},{"k":1,"w":620,"a":0.28},{"k":1,"w":645,"a":0.335},{"k":1,"w":670,"a":0.395},{"k":1,"w":700,"a":0.46},{"k":1,"w":735,"a":0.515},{"k":1,"w":770,"a":0.50},{"k":1,"w":800,"a":0.415},{"k":1,"w":830,"a":0.31},{"k":1,"w":860,"a":0.20},{"k":1,"w":890,"a":0.135},{"k":1,"w":920,"a":0.105},{"k":1,"w":950,"a":0.095},
{"k":2,"w":400,"a":0.56},{"k":2,"w":410,"a":0.53},{"k":2,"w":425,"a":0.42},{"k":2,"w":440,"a":0.30},{"k":2,"w":455,"a":0.19},{"k":2,"w":470,"a":0.135},{"k":2,"w":485,"a":0.125},{"k":2,"w":500,"a":0.13},{"k":2,"w":520,"a":0.15},{"k":2,"w":545,"a":0.18},{"k":2,"w":570,"a":0.205},{"k":2,"w":595,"a":0.23},{"k":2,"w":620,"a":0.275},{"k":2,"w":645,"a":0.325},{"k":2,"w":670,"a":0.38},{"k":2,"w":700,"a":0.44},{"k":2,"w":735,"a":0.49},{"k":2,"w":770,"a":0.485},{"k":2,"w":800,"a":0.41},{"k":2,"w":830,"a":0.31},{"k":2,"w":860,"a":0.205},{"k":2,"w":890,"a":0.14},{"k":2,"w":920,"a":0.11},{"k":2,"w":950,"a":0.10},
{"k":3,"w":400,"a":0.55},{"k":3,"w":410,"a":0.52},{"k":3,"w":425,"a":0.415},{"k":3,"w":440,"a":0.30},{"k":3,"w":455,"a":0.205},{"k":3,"w":470,"a":0.155},{"k":3,"w":485,"a":0.145},{"k":3,"w":500,"a":0.15},{"k":3,"w":520,"a":0.165},{"k":3,"w":545,"a":0.19},{"k":3,"w":570,"a":0.21},{"k":3,"w":595,"a":0.23},{"k":3,"w":620,"a":0.27},{"k":3,"w":645,"a":0.315},{"k":3,"w":670,"a":0.365},{"k":3,"w":700,"a":0.42},{"k":3,"w":735,"a":0.47},{"k":3,"w":770,"a":0.47},{"k":3,"w":800,"a":0.405},{"k":3,"w":830,"a":0.31},{"k":3,"w":860,"a":0.21},{"k":3,"w":890,"a":0.145},{"k":3,"w":920,"a":0.115},{"k":3,"w":950,"a":0.105},
{"k":4,"w":400,"a":0.54},{"k":4,"w":410,"a":0.51},{"k":4,"w":425,"a":0.41},{"k":4,"w":440,"a":0.30},{"k":4,"w":455,"a":0.22},{"k":4,"w":470,"a":0.175},{"k":4,"w":485,"a":0.165},{"k":4,"w":500,"a":0.17},{"k":4,"w":520,"a":0.18},{"k":4,"w":545,"a":0.20},{"k":4,"w":570,"a":0.215},{"k":4,"w":595,"a":0.23},{"k":4,"w":620,"a":0.265},{"k":4,"w":645,"a":0.305},{"k":4,"w":670,"a":0.35},{"k":4,"w":700,"a":0.40},{"k":4,"w":735,"a":0.45},{"k":4,"w":770,"a":0.455},{"k":4,"w":800,"a":0.40},{"k":4,"w":830,"a":0.31},{"k":4,"w":860,"a":0.215},{"k":4,"w":890,"a":0.15},{"k":4,"w":920,"a":0.12},{"k":4,"w":950,"a":0.11},
{"k":5,"w":400,"a":0.52},{"k":5,"w":410,"a":0.50},{"k":5,"w":425,"a":0.40},{"k":5,"w":440,"a":0.30},{"k":5,"w":455,"a":0.235},{"k":5,"w":470,"a":0.195},{"k":5,"w":485,"a":0.185},{"k":5,"w":500,"a":0.19},{"k":5,"w":520,"a":0.195},{"k":5,"w":545,"a":0.21},{"k":5,"w":570,"a":0.22},{"k":5,"w":595,"a":0.23},{"k":5,"w":620,"a":0.26},{"k":5,"w":645,"a":0.295},{"k":5,"w":670,"a":0.335},{"k":5,"w":700,"a":0.38},{"k":5,"w":735,"a":0.43},{"k":5,"w":770,"a":0.44},{"k":5,"w":800,"a":0.395},{"k":5,"w":830,"a":0.31},{"k":5,"w":860,"a":0.22},{"k":5,"w":890,"a":0.155},{"k":5,"w":920,"a":0.125},{"k":5,"w":950,"a":0.115},
{"k":6,"w":400,"a":0.50},{"k":6,"w":410,"a":0.48},{"k":6,"w":425,"a":0.39},{"k":6,"w":440,"a":0.30},{"k":6,"w":455,"a":0.25},{"k":6,"w":470,"a":0.215},{"k":6,"w":485,"a":0.205},{"k":6,"w":500,"a":0.21},{"k":6,"w":520,"a":0.21},{"k":6,"w":545,"a":0.22},{"k":6,"w":570,"a":0.225},{"k":6,"w":595,"a":0.23},{"k":6,"w":620,"a":0.255},{"k":6,"w":645,"a":0.285},{"k":6,"w":670,"a":0.32},{"k":6,"w":700,"a":0.36},{"k":6,"w":735,"a":0.41},{"k":6,"w":770,"a":0.42},{"k":6,"w":800,"a":0.39},{"k":6,"w":830,"a":0.31},{"k":6,"w":860,"a":0.225},{"k":6,"w":890,"a":0.16},{"k":6,"w":920,"a":0.13},{"k":6,"w":950,"a":0.12},
{"k":7,"w":400,"a":0.48},{"k":7,"w":410,"a":0.46},{"k":7,"w":425,"a":0.38},{"k":7,"w":440,"a":0.30},{"k":7,"w":455,"a":0.26},{"k":7,"w":470,"a":0.235},{"k":7,"w":485,"a":0.23},{"k":7,"w":500,"a":0.23},{"k":7,"w":520,"a":0.225},{"k":7,"w":545,"a":0.23},{"k":7,"w":570,"a":0.23},{"k":7,"w":595,"a":0.23},{"k":7,"w":620,"a":0.25},{"k":7,"w":645,"a":0.275},{"k":7,"w":670,"a":0.305},{"k":7,"w":700,"a":0.34},{"k":7,"w":735,"a":0.385},{"k":7,"w":770,"a":0.40},{"k":7,"w":800,"a":0.38},{"k":7,"w":830,"a":0.31},{"k":7,"w":860,"a":0.23},{"k":7,"w":890,"a":0.165},{"k":7,"w":920,"a":0.135},{"k":7,"w":950,"a":0.125},
{"k":8,"w":400,"a":0.45},{"k":8,"w":410,"a":0.44},{"k":8,"w":425,"a":0.37},{"k":8,"w":440,"a":0.30},{"k":8,"w":455,"a":0.27},{"k":8,"w":470,"a":0.255},{"k":8,"w":485,"a":0.255},{"k":8,"w":500,"a":0.25},{"k":8,"w":520,"a":0.24},{"k":8,"w":545,"a":0.235},{"k":8,"w":570,"a":0.23},{"k":8,"w":595,"a":0.23},{"k":8,"w":620,"a":0.245},{"k":8,"w":645,"a":0.265},{"k":8,"w":670,"a":0.29},{"k":8,"w":700,"a":0.325},{"k":8,"w":735,"a":0.36},{"k":8,"w":770,"a":0.375},{"k":8,"w":800,"a":0.365},{"k":8,"w":830,"a":0.31},{"k":8,"w":860,"a":0.235},{"k":8,"w":890,"a":0.17},{"k":8,"w":920,"a":0.14},{"k":8,"w":950,"a":0.13},
{"k":9,"w":400,"a":0.42},{"k":9,"w":410,"a":0.41},{"k":9,"w":425,"a":0.36},{"k":9,"w":440,"a":0.30},{"k":9,"w":455,"a":0.28},{"k":9,"w":470,"a":0.275},{"k":9,"w":485,"a":0.28},{"k":9,"w":500,"a":0.275},{"k":9,"w":520,"a":0.26},{"k":9,"w":545,"a":0.245},{"k":9,"w":570,"a":0.235},{"k":9,"w":595,"a":0.23},{"k":9,"w":620,"a":0.24},{"k":9,"w":645,"a":0.255},{"k":9,"w":670,"a":0.275},{"k":9,"w":700,"a":0.305},{"k":9,"w":735,"a":0.335},{"k":9,"w":770,"a":0.345},{"k":9,"w":800,"a":0.34},{"k":9,"w":830,"a":0.30},{"k":9,"w":860,"a":0.235},{"k":9,"w":890,"a":0.175},{"k":9,"w":920,"a":0.14},{"k":9,"w":950,"a":0.13},
{"k":10,"w":400,"a":0.36},{"k":10,"w":410,"a":0.36},{"k":10,"w":425,"a":0.33},{"k":10,"w":440,"a":0.29},{"k":10,"w":455,"a":0.28},{"k":10,"w":470,"a":0.275},{"k":10,"w":485,"a":0.28},{"k":10,"w":500,"a":0.275},{"k":10,"w":520,"a":0.26},{"k":10,"w":545,"a":0.24},{"k":10,"w":560,"a":0.25},{"k":10,"w":575,"a":0.28},{"k":10,"w":590,"a":0.295},{"k":10,"w":605,"a":0.32},{"k":10,"w":615,"a":0.35},{"k":10,"w":625,"a":0.37},{"k":10,"w":635,"a":0.36},{"k":10,"w":645,"a":0.33},{"k":10,"w":655,"a":0.29},{"k":10,"w":670,"a":0.255},{"k":10,"w":690,"a":0.24},{"k":10,"w":710,"a":0.245},{"k":10,"w":735,"a":0.25},{"k":10,"w":770,"a":0.245},{"k":10,"w":800,"a":0.22},{"k":10,"w":830,"a":0.18},{"k":10,"w":860,"a":0.14},{"k":10,"w":890,"a":0.11},{"k":10,"w":920,"a":0.095},{"k":10,"w":950,"a":0.085},
{"k":11,"w":400,"a":0.35},{"k":11,"w":410,"a":0.35},{"k":11,"w":425,"a":0.32},{"k":11,"w":440,"a":0.29},{"k":11,"w":455,"a":0.28},{"k":11,"w":470,"a":0.275},{"k":11,"w":485,"a":0.28},{"k":11,"w":500,"a":0.275},{"k":11,"w":520,"a":0.26},{"k":11,"w":545,"a":0.25},{"k":11,"w":560,"a":0.28},{"k":11,"w":570,"a":0.31},{"k":11,"w":580,"a":0.315},{"k":11,"w":595,"a":0.34},{"k":11,"w":610,"a":0.43},{"k":11,"w":625,"a":0.52},{"k":11,"w":635,"a":0.49},{"k":11,"w":645,"a":0.40},{"k":11,"w":655,"a":0.27},{"k":11,"w":665,"a":0.18},{"k":11,"w":680,"a":0.135},{"k":11,"w":700,"a":0.125},{"k":11,"w":735,"a":0.125},{"k":11,"w":770,"a":0.125},{"k":11,"w":800,"a":0.115},{"k":11,"w":830,"a":0.10},{"k":11,"w":860,"a":0.085},{"k":11,"w":890,"a":0.075},{"k":11,"w":920,"a":0.07},{"k":11,"w":950,"a":0.07},
{"k":12,"w":400,"a":0.34},{"k":12,"w":410,"a":0.34},{"k":12,"w":425,"a":0.31},{"k":12,"w":440,"a":0.285},{"k":12,"w":455,"a":0.28},{"k":12,"w":470,"a":0.28},{"k":12,"w":485,"a":0.285},{"k":12,"w":500,"a":0.28},{"k":12,"w":520,"a":0.265},{"k":12,"w":545,"a":0.25},{"k":12,"w":560,"a":0.29},{"k":12,"w":570,"a":0.32},{"k":12,"w":580,"a":0.325},{"k":12,"w":595,"a":0.36},{"k":12,"w":610,"a":0.46},{"k":12,"w":625,"a":0.565},{"k":12,"w":635,"a":0.54},{"k":12,"w":645,"a":0.44},{"k":12,"w":655,"a":0.29},{"k":12,"w":665,"a":0.17},{"k":12,"w":680,"a":0.11},{"k":12,"w":700,"a":0.095},{"k":12,"w":735,"a":0.09},{"k":12,"w":770,"a":0.085},{"k":12,"w":800,"a":0.08},{"k":12,"w":830,"a":0.075},{"k":12,"w":860,"a":0.07},{"k":12,"w":890,"a":0.065},{"k":12,"w":920,"a":0.06},{"k":12,"w":950,"a":0.065},
{"k":13,"w":400,"a":0.33},{"k":13,"w":410,"a":0.33},{"k":13,"w":425,"a":0.305},{"k":13,"w":440,"a":0.285},{"k":13,"w":455,"a":0.28},{"k":13,"w":470,"a":0.28},{"k":13,"w":485,"a":0.29},{"k":13,"w":500,"a":0.285},{"k":13,"w":520,"a":0.27},{"k":13,"w":545,"a":0.255},{"k":13,"w":560,"a":0.295},{"k":13,"w":570,"a":0.325},{"k":13,"w":580,"a":0.33},{"k":13,"w":595,"a":0.365},{"k":13,"w":610,"a":0.47},{"k":13,"w":625,"a":0.585},{"k":13,"w":635,"a":0.56},{"k":13,"w":645,"a":0.45},{"k":13,"w":655,"a":0.295},{"k":13,"w":665,"a":0.165},{"k":13,"w":680,"a":0.10},{"k":13,"w":700,"a":0.085},{"k":13,"w":735,"a":0.08},{"k":13,"w":770,"a":0.075},{"k":13,"w":800,"a":0.07},{"k":13,"w":830,"a":0.065},{"k":13,"w":860,"a":0.06},{"k":13,"w":890,"a":0.06},{"k":13,"w":920,"a":0.055},{"k":13,"w":950,"a":0.06}
],
"cLeg": [{"k":0,"x1":440,"x2":500,"y":0.929},{"k":11,"x1":440,"x2":500,"y":0.778}],
"cArr": [{"x":470,"b":0.925,"h":0.80,"d":"down"},{"x":737,"b":0.836,"h":0.752,"d":"down"},{"x":501,"b":0.372,"h":0.452,"d":"up"},{"x":629,"b":0.452,"h":0.535,"d":"up"}],
"cBig": [{"x":508,"y":0.929,"t":"0.2 V"},{"x":508,"y":0.778,"t":"-1.0 V"}],
"cSmL": [{"x":752,"y":0.797,"t":"(1)"}],
"cSmR": [{"x":492,"y":0.415,"t":"(1)"},{"x":621,"y":0.475,"t":"(2)"}],
"cName": [{"x":934,"y":0.923,"t":"p([100:0]NDI-T2)"}],
"dLeg": [{"k":0,"x1":420,"x2":479,"y":0.761},{"k":13,"x1":420,"x2":479,"y":0.641}],
"dArr": [{"x":447.5,"b":0.757,"h":0.662,"d":"down"},{"x":617,"b":0.597,"h":0.665,"d":"up"},{"x":733,"b":0.632,"h":0.565,"d":"down"},{"x":480,"b":0.305,"h":0.375,"d":"up"},{"x":499,"b":0.381,"h":0.315,"d":"down"},{"x":566,"b":0.340,"h":0.410,"d":"up"}],
"dBig": [{"x":486,"y":0.761,"t":"0.2 V"},{"x":486,"y":0.641,"t":"-1.0 V"}],
"dSmL": [{"x":623,"y":0.624,"t":"(2)"},{"x":739,"y":0.607,"t":"(1,2)"},{"x":509,"y":0.344,"t":"(2)"},{"x":571,"y":0.365,"t":"(2)"}],
"dSmR": [{"x":474.6,"y":0.344,"t":"(1)"}],
"dName": [{"x":938,"y":0.724,"t":"p([90:10]NDI-T2)"}]
},
"spacing": 468,
"bounds": "flush",
"resolve": {"scale": {"color": "independent", "strokeDash": "independent", "strokeWidth": "independent", "fill": "independent", "shape": "independent"}, "legend": {"color": "independent", "strokeDash": "independent"}},
"vconcat": [
{
"resolve": {"scale": {"color": "independent", "strokeDash": "independent", "strokeWidth": "independent", "fill": "independent", "shape": "independent"}, "legend": {"color": "independent", "strokeDash": "independent"}},
"hconcat": [
{
"width": 430, "height": 348,
"title": {"text": "a)", "anchor": "start", "frame": "group", "dx": -60, "dy": 36, "fontSize": 30, "font": "Open Sans", "fontWeight": "normal", "color": "#111", "offset": 0},
"layer": [
{
"data": {"name": "cv"},
"mark": {"type": "line", "clip": true, "opacity": 0.9, "interpolate": "catmull-rom"},
"encoding": {
"x": {"field": "v", "type": "quantitative", "scale": {"domain": [-1.1, 0.3], "nice": false, "zero": false},
"axis": {"orient": "bottom", "values": [-1.0,-0.9,-0.8,-0.7,-0.6,-0.5,-0.4,-0.3,-0.2,-0.1,0.0,0.1,0.2], "labelExpr": "abs(round(datum.value*10)) % 2 == 0 ? replace(format(datum.value, '.1f'), '\u2212', '-') : ''", "tickSize": {"condition": {"test": "abs(round(datum.value*10)) % 2 == 0", "value": 6}, "value": 3}, "labelPadding": 4, "title": "Potential vs Ag/AgCl [V]", "titlePadding": 14}},
"y": {"field": "i", "type": "quantitative", "scale": {"domain": [0, 0.85], "nice": false, "zero": false}, "axis": {"labels": false, "ticks": false, "title": "Current [mA]", "titlePadding": 28}},
"color": {"field": "s", "type": "nominal", "scale": {"domain": ["p([100:0]NDI-T2)", "p([90:10]NDI-T2)", "Scan #1"], "range": ["#f3a763", "#9dd17a", "#000000"]}, "legend": null},
"strokeDash": {"field": "s", "type": "nominal", "scale": {"domain": ["p([100:0]NDI-T2)", "p([90:10]NDI-T2)", "Scan #1"], "range": [[1,0],[1,0],[6,3]]}, "legend": null},
"strokeWidth": {"field": "s", "type": "nominal", "scale": {"domain": ["p([100:0]NDI-T2)", "p([90:10]NDI-T2)", "Scan #1"], "range": [4, 4, 2.2]}, "legend": null},
"detail": {"field": "g", "type": "nominal"},
"order": {"field": "o", "type": "quantitative"}
}
},
{
"data": {"name": "aleg"},
"mark": {"type": "rule", "strokeWidth": 3},
"encoding": {
"x": {"field": "x1", "type": "quantitative", "axis": null},
"x2": {"field": "x2"},
"y": {"field": "y", "type": "quantitative", "axis": null},
"color": {"field": "s", "type": "nominal", "legend": null},
"strokeDash": {"field": "s", "type": "nominal", "legend": null}
}
},
{
"data": {"name": "aleg"},
"mark": {"type": "text", "align": "left", "baseline": "middle", "fontSize": 17, "font": "Liberation Sans", "color": "#222", "dx": 5},
"encoding": {
"x": {"field": "x2", "type": "quantitative", "axis": null},
"y": {"field": "y", "type": "quantitative", "axis": null},
"text": {"field": "s"}
}
},
{
"data": {"name": "abar"},
"mark": {"type": "rule", "color": "#000", "strokeWidth": 2},
"encoding": {
"x": {"field": "v", "type": "quantitative", "axis": {"orient": "top", "values": [-1.0,-0.9,-0.8,-0.7,-0.6,-0.5,-0.4,-0.3,-0.2,-0.1,0.0,0.1,0.2], "labels": false, "title": null, "tickSize": {"condition": {"test": "abs(round(datum.value*10)) % 2 == 0", "value": -6}, "value": -3}}},
"y": {"field": "i1", "type": "quantitative", "axis": null},
"y2": {"field": "i2"}
}
},
{
"data": {"name": "abar"},
"mark": {"type": "text", "align": "left", "baseline": "middle", "fontSize": 17, "fontWeight": "bold", "font": "Liberation Sans", "color": "#111", "dx": 7, "dy": -20},
"encoding": {
"x": {"field": "v", "type": "quantitative", "axis": null},
"y": {"field": "i1", "type": "quantitative", "axis": null},
"text": {"field": "label"}
}
}
],
"resolve": {"axis": {"x": "independent", "y": "independent"}}
},
{
"spacing": 26,
"bounds": "flush",
"vconcat": [
{
"width": 496, "height": 269,
"title": {"text": "b)", "anchor": "start", "frame": "group", "dx": -79, "dy": 36, "fontSize": 30, "font": "Open Sans", "fontWeight": "normal", "color": "#111", "offset": 0},
"layer": [
{
"data": {"name": "bands"},
"mark": {"type": "rect"},
"encoding": {
"x": {"field": "t1", "type": "quantitative", "scale": {"domain": [0, 235], "nice": false, "zero": false}, "axis": {"orient": "top", "values": [0,25,50,75,100,125,150,175,200,225], "labels": false, "title": null, "tickSize": -6}},
"x2": {"field": "t2"},
"fill": {"field": "kind", "type": "nominal", "scale": {"domain": ["outer", "inner", "light"], "range": ["#e3edf8", "#cfe1f2", "#e8f0f9"]}, "legend": null}
}
},
{
"data": {"name": "abs"},
"mark": {"type": "line", "clip": true, "strokeWidth": 2.6, "interpolate": "monotone"},
"encoding": {
"x": {"field": "t", "type": "quantitative", "axis": {"orient": "bottom", "values": [0,25,50,75,100,125,150,175,200,225], "labels": false, "title": null, "tickSize": {"condition": {"test": "datum.value % 50 == 0", "value": 8}, "value": 4}}},
"y": {"field": "y", "type": "quantitative", "scale": {"domain": [0, 0.721], "nice": false, "zero": false}, "axis": {"labels": false, "ticks": false, "title": "Absorbance", "titlePadding": 54}},
"color": {"field": "s", "type": "nominal", "scale": {"domain": ["p([90:10]NDI-T2)", "p([100:0]NDI-T2)"], "range": ["#6aab22", "#f47c20"]},
"legend": {"title": null, "orient": "none", "legendX": 117, "legendY": 18, "direction": "horizontal", "symbolType": "M-1,0H1", "symbolSize": 1764, "symbolStrokeWidth": 3, "labelFontSize": 18, "labelFont": "Liberation Sans", "labelColor": "#222", "columnPadding": 0, "labelOffset": 2, "padding": 0}}
}
},
{
"data": {"name": "bbar"},
"mark": {"type": "rule", "color": "#000", "strokeWidth": 2},
"encoding": {
"x": {"field": "t", "type": "quantitative", "axis": null},
"y": {"field": "y1", "type": "quantitative", "axis": null},
"y2": {"field": "y2"}
}
},
{
"data": {"name": "bbar"},
"mark": {"type": "text", "align": "left", "baseline": "middle", "fontSize": 20, "font": "Liberation Sans", "color": "#111", "dx": 8, "dy": -19},
"encoding": {
"x": {"field": "t", "type": "quantitative", "axis": null},
"y": {"field": "y1", "type": "quantitative", "axis": null},
"text": {"field": "label"}
}
}
],
"resolve": {"axis": {"x": "independent", "y": "independent"}}
},
{
"width": 496, "height": 62,
"data": {"name": "volt"},
"mark": {"type": "line", "clip": true, "color": "#000", "strokeWidth": 2.2},
"encoding": {
"x": {"field": "t", "type": "quantitative", "scale": {"domain": [0, 235], "nice": false, "zero": false}, "axis": {"values": [0,25,50,75,100,125,150,175,200,225], "labelExpr": "datum.value % 50 == 0 ? datum.label : ''", "tickSize": {"condition": {"test": "datum.value % 50 == 0", "value": 7}, "value": 4}, "labelPadding": 3, "title": "Time [s]", "titlePadding": 10}},
"y": {"field": "v", "type": "quantitative", "scale": {"domain": [-1.08, 0.27], "nice": false, "zero": false}, "axis": {"values": [0.2, -0.4, -1.0], "labelExpr": "datum.value > -0.5 && datum.value < -0.3 ? '' : replace(format(datum.value, '.1f'), '\u2212', '-')", "tickSize": 4, "labelPadding": 3, "title": "V", "titleFontStyle": "italic", "titlePadding": 14}}
}
}
]
}
],
"spacing": 131,
"bounds": "flush"
},
{
"resolve": {"scale": {"color": "independent", "strokeDash": "independent", "strokeWidth": "independent", "fill": "independent", "shape": "independent"}, "legend": {"color": "independent", "strokeDash": "independent"}},
"hconcat": [
{
"width": 430, "height": 346,
"title": {"text": "c)", "anchor": "start", "frame": "group", "dx": -79, "dy": 20, "fontSize": 30, "font": "Open Sans", "fontWeight": "normal", "color": "#111", "offset": 0},
"layer": [
{
"data": {"name": "cspec"},
"mark": {"type": "line", "clip": true, "strokeWidth": 1.6, "interpolate": "monotone"},
"encoding": {
"x": {"field": "w", "type": "quantitative", "scale": {"domain": [400, 950], "nice": false, "zero": false}, "axis": {"orient": "bottom", "values": [400,450,500,550,600,650,700,750,800,850,900,950], "labelExpr": "datum.value % 100 == 0 ? datum.label : ''", "tickSize": {"condition": {"test": "datum.value % 100 == 0", "value": 7}, "value": 4}, "labelPadding": 3, "title": "Wavelength [nm]", "titlePadding": 10}},
"y": {"field": "a", "type": "quantitative", "scale": {"domain": [0, 1.0], "nice": false, "zero": false}, "axis": {"orient": "left", "values": [0,0.05,0.1,0.15,0.2,0.25,0.3,0.35,0.4,0.45,0.5,0.55,0.6,0.65,0.7,0.75,0.8,0.85,0.9,0.95,1.0], "labelExpr": "round(datum.value*20) % 2 == 0 ? format(datum.value, '.1f') : ''", "tickSize": {"condition": {"test": "round(datum.value*20) % 2 == 0", "value": 7}, "value": 4}, "labelPadding": 3, "title": "Absorbance", "titlePadding": 22}},
"color": {"field": "k", "type": "quantitative", "scale": {"domain": [0, 11], "range": ["#e8912c", "#f8dab6"]}, "legend": null},
"detail": {"field": "k", "type": "nominal"}
}
},
{
"data": {"name": "cLeg"},
"mark": {"type": "rule", "strokeWidth": 2.5},
"encoding": {
"x": {"field": "x1", "type": "quantitative", "axis": null},
"x2": {"field": "x2"},
"y": {"field": "y", "type": "quantitative", "axis": null},
"color": {"field": "k", "type": "quantitative", "legend": null}
}
},
{
"data": {"name": "cArr"},
"mark": {"type": "rule", "strokeWidth": 4, "color": "#f0a555"},
"encoding": {
"x": {"field": "x", "type": "quantitative", "axis": null},
"y": {"field": "b", "type": "quantitative", "axis": null},
"y2": {"field": "h"}
}
},
{
"data": {"name": "cArr"},
"mark": {"type": "point", "filled": true, "opacity": 1, "size": 110, "color": "#f0a555"},
"encoding": {
"x": {"field": "x", "type": "quantitative", "axis": null},
"y": {"field": "h", "type": "quantitative", "axis": null},
"shape": {"field": "d", "type": "nominal", "scale": {"domain": ["up", "down"], "range": ["triangle-up", "triangle-down"]}, "legend": null}
}
},
{
"data": {"name": "cBig"},
"mark": {"type": "text", "align": "left", "baseline": "middle", "fontSize": 20, "font": "Liberation Sans", "color": "#222"},
"encoding": {
"x": {"field": "x", "type": "quantitative", "axis": null},
"y": {"field": "y", "type": "quantitative", "axis": null},
"text": {"field": "t"}
}
},
{
"data": {"name": "cSmL"},
"mark": {"type": "text", "align": "left", "baseline": "middle", "fontSize": 15, "font": "Liberation Sans", "color": "#222"},
"encoding": {
"x": {"field": "x", "type": "quantitative", "axis": null},
"y": {"field": "y", "type": "quantitative", "axis": null},
"text": {"field": "t"}
}
},
{
"data": {"name": "cSmR"},
"mark": {"type": "text", "align": "right", "baseline": "middle", "fontSize": 15, "font": "Liberation Sans", "color": "#222"},
"encoding": {
"x": {"field": "x", "type": "quantitative", "axis": null},
"y": {"field": "y", "type": "quantitative", "axis": null},
"text": {"field": "t"}
}
},
{
"data": {"name": "cName"},
"mark": {"type": "text", "align": "right", "baseline": "middle", "fontSize": 21, "fontWeight": "bold", "font": "Open Sans", "color": "#f0a14c"},
"encoding": {
"x": {"field": "x", "type": "quantitative", "axis": {"orient": "top", "values": [400,450,500,550,600,650,700,750,800,850,900,950], "labels": false, "title": null, "tickSize": {"condition": {"test": "datum.value % 100 == 0", "value": -7}, "value": -4}}},
"y": {"field": "y", "type": "quantitative", "axis": {"orient": "right", "values": [0,0.05,0.1,0.15,0.2,0.25,0.3,0.35,0.4,0.45,0.5,0.55,0.6,0.65,0.7,0.75,0.8,0.85,0.9,0.95,1.0], "labels": false, "title": null, "tickSize": {"condition": {"test": "round(datum.value*20) % 2 == 0", "value": -7}, "value": -4}}},
"text": {"field": "t"}
}
}
],
"resolve": {"axis": {"x": "independent", "y": "independent"}}
},
{
"width": 430, "height": 346,
"title": {"text": "d)", "anchor": "start", "frame": "group", "dx": -100, "dy": 20, "fontSize": 30, "font": "Open Sans", "fontWeight": "normal", "color": "#111", "offset": 0},
"layer": [
{
"data": {"name": "dspec"},
"mark": {"type": "line", "clip": true, "strokeWidth": 1.6, "interpolate": "monotone"},
"encoding": {
"x": {"field": "w", "type": "quantitative", "scale": {"domain": [400, 950], "nice": false, "zero": false}, "axis": {"orient": "bottom", "values": [400,450,500,550,600,650,700,750,800,850,900,950], "labelExpr": "datum.value % 100 == 0 ? datum.label : ''", "tickSize": {"condition": {"test": "datum.value % 100 == 0", "value": 7}, "value": 4}, "labelPadding": 3, "title": "Wavelength [nm]", "titlePadding": 10}},
"y": {"field": "a", "type": "quantitative", "scale": {"domain": [0, 0.8], "nice": false, "zero": false}, "axis": {"orient": "left", "values": [0,0.05,0.1,0.15,0.2,0.25,0.3,0.35,0.4,0.45,0.5,0.55,0.6,0.65,0.7,0.75,0.8], "labelExpr": "round(datum.value*20) % 2 == 0 ? format(datum.value, '.1f') : ''", "tickSize": {"condition": {"test": "round(datum.value*20) % 2 == 0", "value": 7}, "value": 4}, "labelPadding": 3, "title": "Absorbance", "titlePadding": 24}},
"color": {"field": "k", "type": "quantitative", "scale": {"domain": [0, 13], "range": ["#7dbd55", "#d5ebc6"]}, "legend": null},
"detail": {"field": "k", "type": "nominal"}
}
},
{
"data": {"name": "dLeg"},
"mark": {"type": "rule", "strokeWidth": 2.5},
"encoding": {
"x": {"field": "x1", "type": "quantitative", "axis": null},
"x2": {"field": "x2"},
"y": {"field": "y", "type": "quantitative", "axis": null},
"color": {"field": "k", "type": "quantitative", "legend": null}
}
},
{
"data": {"name": "dArr"},
"mark": {"type": "rule", "strokeWidth": 4, "color": "#8cc86a"},
"encoding": {
"x": {"field": "x", "type": "quantitative", "axis": null},
"y": {"field": "b", "type": "quantitative", "axis": null},
"y2": {"field": "h"}
}
},
{
"data": {"name": "dArr"},
"mark": {"type": "point", "filled": true, "opacity": 1, "size": 110, "color": "#8cc86a"},
"encoding": {
"x": {"field": "x", "type": "quantitative", "axis": null},
"y": {"field": "h", "type": "quantitative", "axis": null},
"shape": {"field": "d", "type": "nominal", "scale": {"domain": ["up", "down"], "range": ["triangle-up", "triangle-down"]}, "legend": null}
}
},
{
"data": {"name": "dBig"},
"mark": {"type": "text", "align": "left", "baseline": "middle", "fontSize": 20, "font": "Liberation Sans", "color": "#222"},
"encoding": {
"x": {"field": "x", "type": "quantitative", "axis": null},
"y": {"field": "y", "type": "quantitative", "axis": null},
"text": {"field": "t"}
}
},
{
"data": {"name": "dSmL"},
"mark": {"type": "text", "align": "left", "baseline": "middle", "fontSize": 15, "font": "Liberation Sans", "color": "#222"},
"encoding": {
"x": {"field": "x", "type": "quantitative", "axis": null},
"y": {"field": "y", "type": "quantitative", "axis": null},
"text": {"field": "t"}
}
},
{
"data": {"name": "dSmR"},
"mark": {"type": "text", "align": "right", "baseline": "middle", "fontSize": 15, "font": "Liberation Sans", "color": "#222"},
"encoding": {
"x": {"field": "x", "type": "quantitative", "axis": null},
"y": {"field": "y", "type": "quantitative", "axis": null},
"text": {"field": "t"}
}
},
{
"data": {"name": "dName"},
"mark": {"type": "text", "align": "right", "baseline": "middle", "fontSize": 21, "fontWeight": "bold", "font": "Open Sans", "color": "#9ccf7c"},
"encoding": {
"x": {"field": "x", "type": "quantitative", "axis": {"orient": "top", "values": [400,450,500,550,600,650,700,750,800,850,900,950], "labels": false, "title": null, "tickSize": {"condition": {"test": "datum.value % 100 == 0", "value": -7}, "value": -4}}},
"y": {"field": "y", "type": "quantitative", "axis": {"orient": "right", "values": [0,0.05,0.1,0.15,0.2,0.25,0.3,0.35,0.4,0.45,0.5,0.55,0.6,0.65,0.7,0.75,0.8], "labels": false, "title": null, "tickSize": {"condition": {"test": "round(datum.value*20) % 2 == 0", "value": -7}, "value": -4}}},
"text": {"field": "t"}
}
}
],
"resolve": {"axis": {"x": "independent", "y": "independent"}}
}
],
"spacing": 172,
"bounds": "flush"
}
],
"config": {
"view": {"stroke": "#000", "strokeWidth": 1.6},
"axis": {"domain": false, "grid": false, "labelFont": "Liberation Sans", "labelFontSize": 20, "labelColor": "#222", "labelOverlap": false, "labelFlush": false, "labelBound": false, "titleFont": "Open Sans", "titleFontSize": 26, "titleFontWeight": "normal", "titleColor": "#111", "tickColor": "#000", "tickWidth": 1.5},
"title": {"anchor": "start"}
}
}
